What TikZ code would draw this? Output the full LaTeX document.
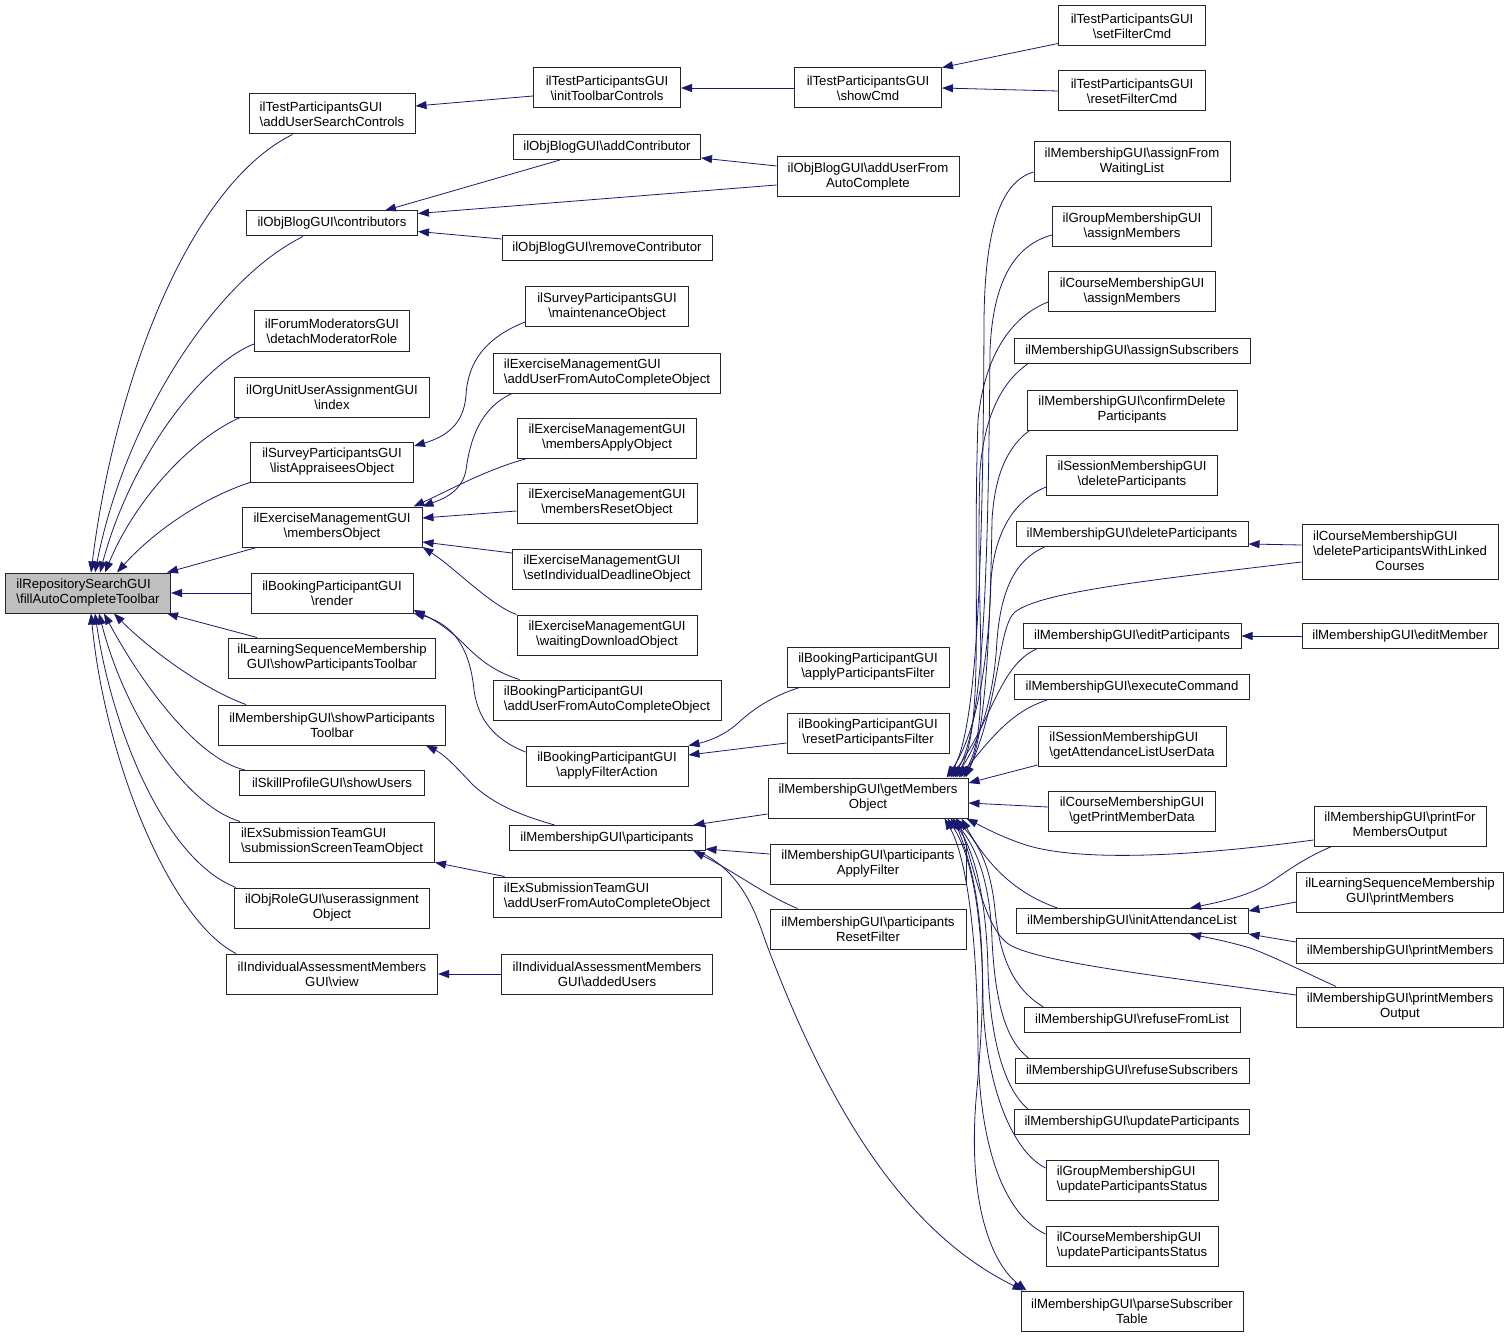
\documentclass[tikz,border=0pt]{standalone}
\usepackage{fontspec}
\setmainfont{Liberation Sans}
\usepackage{tikz}
\usetikzlibrary{arrows.meta,shapes,positioning}
\usepackage{xcolor}
\definecolor{dxnavy}{RGB}{25,25,112}
\definecolor{dxgray}{RGB}{191,191,191}
\newcommand{\dxbs}{\textbackslash}
\tikzstyle{call} = [line width=0.8pt, ->, >={Triangle[length=11pt,width=8pt]}, color=dxnavy]
\tikzstyle{func} = [rectangle, draw=black!85, line width=1pt, fill=white, font=\fontsize{13.2}{15}\selectfont, align=center, inner xsep=3pt, inner ysep=1pt, minimum height=25pt]
\tikzstyle{func2} = [func, minimum height=40pt]
\tikzstyle{func3} = [func, minimum height=55pt]
\tikzstyle{funcroot} = [func2, fill=dxgray]

\begin{document}
\begin{tikzpicture}[x=1pt, y=-1pt]
\useasboundingbox (0,0) rectangle (1509,1337);

% Root function
\node (fill) [funcroot, align=left, minimum width=165pt] at (88,593) {ilRepositorySearchGUI\\\dxbs fillAutoCompleteToolbar};

% First column of callers
\node (tpaddsearch) [func2, align=left, minimum width=166pt] at (332,114) {ilTestParticipantsGUI\\\dxbs addUserSearchControls};
\node (blogcontrib) [func, minimum width=171pt] at (332,223.5) {ilObjBlogGUI\dxbs contributors};
\node (forumdetach) [func2, minimum width=155pt] at (332,331) {ilForumModeratorsGUI\\\dxbs detachModeratorRole};
\node (orgindex) [func2, minimum width=195pt] at (332,397) {ilOrgUnitUserAssignmentGUI\\\dxbs index};
\node (surveylist) [func2, minimum width=163pt] at (332,462) {ilSurveyParticipantsGUI\\\dxbs listAppraiseesObject};
\node (exmembers) [func2, minimum width=180pt] at (332,527) {ilExerciseManagementGUI\\\dxbs membersObject};
\node (bookrender) [func2, minimum width=162pt] at (332,593) {ilBookingParticipantGUI\\\dxbs render};
\node (lsmtoolbar) [func2, minimum width=207pt] at (332,658) {ilLearningSequenceMembership\\GUI\dxbs showParticipantsToolbar};
\node (memtoolbar) [func2, minimum width=227pt] at (332,725) {ilMembershipGUI\dxbs showParticipants\\Toolbar};
\node (skillusers) [func, minimum width=185pt] at (332,783) {ilSkillProfileGUI\dxbs showUsers};
\node (exsubscreen) [func2, align=left, minimum width=205pt] at (332,842) {ilExSubmissionTeamGUI\\\dxbs submissionScreenTeamObject};
\node (roleassign) [func2, minimum width=195pt] at (332,908) {ilObjRoleGUI\dxbs userassignment\\Object};
\node (iamview) [func2, minimum width=211pt] at (332,974) {ilIndividualAssessmentMembers\\GUI\dxbs view};

% Second column
\node (tpinittool) [func2, minimum width=147pt] at (607,88) {ilTestParticipantsGUI\\\dxbs initToolbarControls};
\node (blogaddcontrib) [func, minimum width=187pt] at (607,147) {ilObjBlogGUI\dxbs addContributor};
\node (blogremove) [func, minimum width=210pt] at (607,248) {ilObjBlogGUI\dxbs removeContributor};
\node (surveymaint) [func2, minimum width=163pt] at (607,307) {ilSurveyParticipantsGUI\\\dxbs maintenanceObject};
\node (exadduser) [func2, align=left, minimum width=227pt] at (607,373) {ilExerciseManagementGUI\\\dxbs addUserFromAutoCompleteObject};
\node (exapply) [func2, minimum width=179pt] at (607,438) {ilExerciseManagementGUI\\\dxbs membersApplyObject};
\node (exreset) [func2, minimum width=180pt] at (607,503) {ilExerciseManagementGUI\\\dxbs membersResetObject};
\node (exdeadline) [func2, align=left, minimum width=189pt] at (607,569) {ilExerciseManagementGUI\\\dxbs setIndividualDeadlineObject};
\node (exwaiting) [func2, minimum width=180pt] at (607,635) {ilExerciseManagementGUI\\\dxbs waitingDownloadObject};
\node (bookadduser) [func2, align=left, minimum width=228pt] at (607,700) {ilBookingParticipantGUI\\\dxbs addUserFromAutoCompleteObject};
\node (bookfilter) [func2, minimum width=162pt] at (607,766) {ilBookingParticipantGUI\\\dxbs applyFilterAction};
\node (memparts) [func, minimum width=196pt] at (607,838) {ilMembershipGUI\dxbs participants};
\node (exsubadduser) [func2, align=left, minimum width=228pt] at (607,897) {ilExSubmissionTeamGUI\\\dxbs addUserFromAutoCompleteObject};
\node (iamadded) [func2, minimum width=211pt] at (607,974) {ilIndividualAssessmentMembers\\GUI\dxbs addedUsers};

% Third column
\node (tpshowcmd) [func2, minimum width=147pt] at (868,88) {ilTestParticipantsGUI\\\dxbs showCmd};
\node (blogaddfrom) [func2, minimum width=182pt] at (868,177) {ilObjBlogGUI\dxbs addUserFrom\\AutoComplete};
\node (bookapplypf) [func2, minimum width=162pt] at (868,667) {ilBookingParticipantGUI\\\dxbs applyParticipantsFilter};
\node (bookresetpf) [func2, minimum width=162pt] at (868,733) {ilBookingParticipantGUI\\\dxbs resetParticipantsFilter};
\node (memgetobj) [func2, minimum width=200pt] at (868,798) {ilMembershipGUI\dxbs getMembers\\Object};
\node (memapplyf) [func2, minimum width=196pt] at (868,864) {ilMembershipGUI\dxbs participants\\ApplyFilter};
\node (memresetf) [func2, minimum width=196pt] at (868,929) {ilMembershipGUI\dxbs participants\\ResetFilter};

% Fourth column
\node (tpsetfilter) [func2, minimum width=147pt] at (1132,26) {ilTestParticipantsGUI\\\dxbs setFilterCmd};
\node (tpresetfilter) [func2, minimum width=147pt] at (1132,91) {ilTestParticipantsGUI\\\dxbs resetFilterCmd};
\node (memassignwait) [func2, minimum width=196pt] at (1132,162) {ilMembershipGUI\dxbs assignFrom\\WaitingList};
\node (grpassign) [func2, minimum width=159pt] at (1132,227) {ilGroupMembershipGUI\\\dxbs assignMembers};
\node (crsassign) [func2, minimum width=167pt] at (1132,292) {ilCourseMembershipGUI\\\dxbs assignMembers};
\node (memassignsub) [func, minimum width=236pt] at (1132,351) {ilMembershipGUI\dxbs assignSubscribers};
\node (memconfirm) [func2, minimum width=210pt] at (1132,410) {ilMembershipGUI\dxbs confirmDelete\\Participants};
\node (sessdelete) [func2, minimum width=171pt] at (1132,475) {ilSessionMembershipGUI\\\dxbs deleteParticipants};
\node (memdelete) [func, minimum width=232pt] at (1132,534) {ilMembershipGUI\dxbs deleteParticipants};
\node (memeditparts) [func, minimum width=218pt] at (1132,636) {ilMembershipGUI\dxbs editParticipants};
\node (memexec) [func, minimum width=235pt] at (1132,687) {ilMembershipGUI\dxbs executeCommand};
\node (sessattend) [func2, align=left, minimum width=188pt] at (1132,746) {ilSessionMembershipGUI\\\dxbs getAttendanceListUserData};
\node (crsprintdata) [func2, minimum width=167pt] at (1132,811) {ilCourseMembershipGUI\\\dxbs getPrintMemberData};
\node (meminitattend) [func, minimum width=232pt] at (1132,921) {ilMembershipGUI\dxbs initAttendanceList};
\node (memrefuselist) [func, minimum width=216pt] at (1132,1020) {ilMembershipGUI\dxbs refuseFromList};
\node (memrefusesub) [func, minimum width=234pt] at (1132,1071) {ilMembershipGUI\dxbs refuseSubscribers};
\node (memupdate) [func, minimum width=235pt] at (1132,1122) {ilMembershipGUI\dxbs updateParticipants};
\node (grpupdstatus) [func2, align=left, minimum width=172pt] at (1132,1180) {ilGroupMembershipGUI\\\dxbs updateParticipantsStatus};
\node (crsupdstatus) [func2, align=left, minimum width=172pt] at (1132,1246) {ilCourseMembershipGUI\\\dxbs updateParticipantsStatus};
\node (memparse) [func2, minimum width=222pt] at (1132,1311) {ilMembershipGUI\dxbs parseSubscriber\\Table};

% Fifth column
\node (crsdeletelinked) [func3, minimum width=196pt] at (1400,552) {\begin{tabular}{@{}l@{}}ilCourseMembershipGUI\\\dxbs deleteParticipantsWithLinked\\\multicolumn{1}{@{}c@{}}{Courses}\end{tabular}};
\node (memeditmember) [func, minimum width=196pt] at (1400,636) {ilMembershipGUI\dxbs editMember};
\node (memprintfor) [func2, minimum width=172pt] at (1400,826) {ilMembershipGUI\dxbs printFor\\MembersOutput};
\node (lsmprint) [func2, minimum width=207pt] at (1400,892) {ilLearningSequenceMembership\\GUI\dxbs printMembers};
\node (memprint) [func, minimum width=207pt] at (1400,951) {ilMembershipGUI\dxbs printMembers};
\node (memprintout) [func2, minimum width=207pt] at (1400,1007) {ilMembershipGUI\dxbs printMembers\\Output};

% Calls into the root
\draw[call] ([xshift=44pt]tpaddsearch.south west) .. controls (190,185) and (115,380) .. ([xshift=3pt]fill.north);
\draw[call] ([xshift=-29pt]blogcontrib.south) .. controls (215,280) and (125,420) .. ([xshift=7pt]fill.north);
\draw[call] ([yshift=-13pt]forumdetach.west) .. controls (200,365) and (130,460) .. ([xshift=12pt]fill.north);
\draw[call] ([xshift=6pt]orgindex.south west) .. controls (190,440) and (135,500) .. ([xshift=17pt]fill.north);
\draw[call] (surveylist.south west) .. controls (205,497) and (155,530) .. ([xshift=29pt]fill.north);
\draw[call] ([xshift=15pt]exmembers.south west) -- ([xshift=-4pt]fill.north east);
\draw[call] (bookrender.west) -- (fill.east);
\draw[call] ([xshift=29pt]lsmtoolbar.north west) -- ([xshift=-4pt]fill.south east);
\draw[call] ([xshift=28pt]memtoolbar.north west) .. controls (205,690) and (150,650) .. ([xshift=26pt]fill.south);
\draw[call] ([xshift=6pt]skillusers.north west) .. controls (200,760) and (145,690) .. ([xshift=16pt]fill.south);
\draw[call] ([xshift=11pt]exsubscreen.north west) .. controls (185,805) and (125,715) .. ([xshift=11pt]fill.south);
\draw[call] ([xshift=2pt]roleassign.north west) .. controls (165,860) and (112,730) .. ([xshift=7pt]fill.south);
\draw[call] ([xshift=10pt]iamview.north west) .. controls (170,920) and (105,760) .. ([xshift=3pt]fill.south);

% Test participants
\draw[call] ([yshift=-8pt]tpinittool.west) -- ([yshift=8pt]tpaddsearch.east);
\draw[call] (tpshowcmd.west) -- (tpinittool.east);
\draw[call] ([yshift=3pt]tpsetfilter.south west) -- (tpshowcmd.north east);
\draw[call] (tpresetfilter.west) -- (tpshowcmd.east);

% Blog
\draw[call] ([xshift=47pt]blogaddcontrib.south west) -- ([xshift=53pt]blogcontrib.north);
\draw[call] ([yshift=-8pt]blogaddfrom.west) -- ([yshift=10pt]blogcontrib.east);
\draw[call] ([yshift=11pt]blogaddfrom.west) -- ([yshift=2pt]blogaddcontrib.south east);
\draw[call] ([yshift=9pt]blogremove.west) -- ([yshift=-8pt]blogcontrib.east);

% Survey and exercise
\draw[call] ([yshift=-15pt]surveymaint.west) .. controls (485,338) and (468,362) .. (466,395) .. controls (464,425) and (445,437) .. ([yshift=16pt]surveylist.east);
\draw[call] ([xshift=19pt]exadduser.south west) .. controls (480,408) and (470,440) .. (466,470) .. controls (462,493) and (440,500) .. (exmembers.north east);
\draw[call] ([xshift=10pt]exapply.south west) .. controls (485,470) and (450,490) .. ([xshift=-9pt]exmembers.north east);
\draw[call] ([yshift=-8pt]exreset.west) -- ([yshift=9pt]exmembers.east);
\draw[call] ([yshift=16pt]exdeadline.west) -- ([yshift=-15pt]exmembers.east);
\draw[call] (exwaiting.north west) .. controls (490,605) and (455,568) .. ([yshift=-20pt]exmembers.east);

% Booking
\draw[call] ([xshift=27pt]bookadduser.north west) .. controls (495,672) and (480,660) .. (465,645) .. controls (450,630) and (435,620) .. ([yshift=-17pt]bookrender.east);
\draw[call] ([yshift=14pt]bookfilter.west) .. controls (495,740) and (478,720) .. (474,690) .. controls (470,650) and (455,625) .. ([yshift=-20pt]bookrender.east);
\draw[call] ([xshift=13pt]bookapplypf.south west) .. controls (770,697) and (752,710) .. (737,724) .. controls (722,737) and (705,742) .. (bookfilter.north east);
\draw[call] ([yshift=-10pt]bookresetpf.west) -- ([yshift=11pt]bookfilter.east);

% Membership participants and others
\draw[call] ([xshift=46pt]memparts.north west) .. controls (520,815) and (495,805) .. (473,785) .. controls (455,766) and (445,755) .. ([xshift=-20pt]memtoolbar.south east);
\draw[call] ([xshift=12pt]exsubadduser.north west) -- (exsubscreen.south east);
\draw[call] (iamadded.west) -- (iamview.east);
\draw[call] ([yshift=-16pt]memgetobj.west) -- ([xshift=-12pt]memparts.north east);
\draw[call] ([yshift=10pt]memapplyf.west) -- ([yshift=2pt]memparts.south east);
\draw[call] ([xshift=28pt]memresetf.north west) .. controls (765,895) and (735,872) .. ([xshift=-12pt]memparts.south east);
\draw[call] ([xshift=-8pt]memparts.south east) .. controls (735,868) and (752,900) .. (765,940) .. controls (825,1100) and (900,1230) .. ([xshift=3pt]memparse.north west);

% Calls into getMembersObject from above
\draw[call] ([yshift=-10pt]memassignwait.west) .. controls (1000,182) and (985,230) .. (984,320) .. controls (983,600) and (975,730) .. ([xshift=-20pt]memgetobj.north east);
\draw[call] ([yshift=-8pt]grpassign.west) .. controls (1015,245) and (993,280) .. (990,350) .. controls (988,600) and (982,730) .. ([xshift=-16pt]memgetobj.north east);
\draw[call] ([yshift=-10pt]crsassign.west) .. controls (1015,315) and (985,350) .. (978,420) .. controls (972,600) and (985,720) .. ([xshift=-12pt]memgetobj.north east);
\draw[call] ([xshift=14pt]memassignsub.south west) .. controls (1005,380) and (985,410) .. (980,470) .. controls (975,620) and (992,730) .. ([xshift=-8pt]memgetobj.north east);
\draw[call] ([xshift=3pt]memconfirm.south west) .. controls (1010,445) and (995,470) .. (992,520) .. controls (990,640) and (985,740) .. ([xshift=-5pt]memgetobj.north east);
\draw[call] ([yshift=-12pt]sessdelete.west) .. controls (1015,500) and (995,530) .. (991,580) .. controls (988,680) and (972,740) .. ([xshift=-22pt]memgetobj.north east);
\draw[call] ([xshift=29pt]memdelete.south west) .. controls (1015,560) and (1001,590) .. (997,640) .. controls (994,700) and (978,745) .. ([xshift=-14pt]memgetobj.north east);
\draw[call] ([yshift=-10pt]crsdeletelinked.west) .. controls (1150,580) and (1040,592) .. (1015,612) .. controls (998,626) and (1000,700) .. ([xshift=-3pt]memgetobj.north east);
\draw[call] ([xshift=14pt]memeditparts.south west) .. controls (1000,665) and (992,720) .. ([xshift=-18pt]memgetobj.north east);
\draw[call] ([xshift=33pt]memexec.south west) .. controls (1010,712) and (990,740) .. ([xshift=-10pt]memgetobj.north east);
\draw[call] ([yshift=-19pt]sessattend.west) -- ([yshift=15pt]memgetobj.east);
\draw[call] ([yshift=4pt]crsprintdata.west) -- ([yshift=-5pt]memgetobj.east);

% Calls into getMembersObject from below
\draw[call] ([yshift=-14pt]memprintfor.west) .. controls (1150,862) and (1060,858) .. (1020,843) .. controls (1000,836) and (985,828) .. ([xshift=-2pt]memgetobj.south east);
\draw[call] ([xshift=42pt]meminitattend.north west) .. controls (1020,895) and (990,870) .. ([xshift=-7pt]memgetobj.south east);
\draw[call] ([yshift=12pt]memprintout.west) .. controls (1150,975) and (1040,962) .. (1010,945) .. controls (985,930) and (975,870) .. ([xshift=-11pt]memgetobj.south east);
\draw[call] ([xshift=20pt]memrefuselist.north west) .. controls (1015,990) and (1000,960) .. (995,910) .. controls (990,860) and (975,840) .. ([xshift=-13pt]memgetobj.south east);
\draw[call] ([xshift=14pt]memrefusesub.north west) .. controls (1005,1040) and (995,1000) .. (992,940) .. controls (990,870) and (970,840) .. ([xshift=-16pt]memgetobj.south east);
\draw[call] ([xshift=14pt]memupdate.north west) .. controls (1005,1090) and (990,1040) .. (988,970) .. controls (986,880) and (968,840) .. ([xshift=-18pt]memgetobj.south east);
\draw[call] ([yshift=12pt]grpupdstatus.west) .. controls (1010,1150) and (985,1080) .. (983,1000) .. controls (982,890) and (965,845) .. ([xshift=-21pt]memgetobj.south east);
\draw[call] ([yshift=12pt]crsupdstatus.west) .. controls (1005,1215) and (980,1150) .. (978,1050) .. controls (977,900) and (960,845) .. ([xshift=-24pt]memgetobj.south east);
\draw[call] ([xshift=-15pt]memgetobj.south east) .. controls (990,900) and (985,1000) .. (976,1100) .. controls (968,1200) and (990,1262) .. ([xshift=6pt]memparse.north west);

% Attendance list and right column
\draw[call] ([xshift=18pt]memprintfor.south west) .. controls (1300,860) and (1282,875) .. (1266,885) .. controls (1245,897) and (1215,903) .. ([xshift=58pt]meminitattend.north);
\draw[call] ([yshift=-10pt]lsmprint.west) -- ([yshift=-3pt]meminitattend.north east);
\draw[call] ([yshift=9pt]memprint.west) -- (meminitattend.south east);
\draw[call] ([xshift=40pt]memprintout.north west) .. controls (1300,970) and (1270,955) .. (1250,948) .. controls (1230,942) and (1210,938) .. ([xshift=58pt]meminitattend.south);
\draw[call] ([yshift=7pt]crsdeletelinked.west) -- ([yshift=-10pt]memdelete.east);
\draw[call] (memeditmember.west) -- (memeditparts.east);

\end{tikzpicture}
\end{document}
